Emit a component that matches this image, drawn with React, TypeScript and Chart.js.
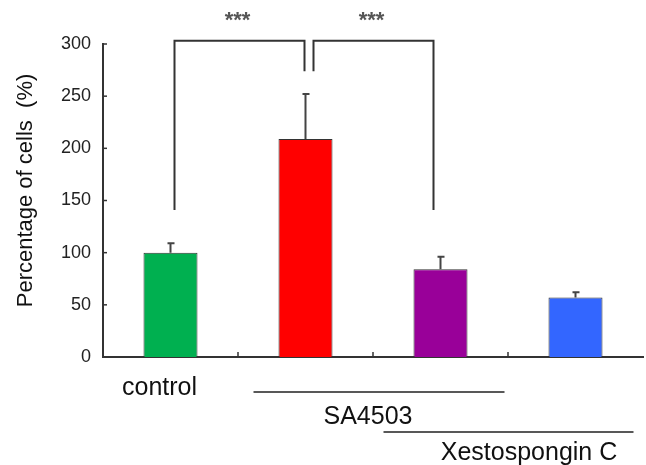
import React, { useEffect, useRef } from "react";
import { Chart, registerables } from "chart.js";
Chart.register(...registerables);

const categories = ["control", "SA4503", "SA4503 + Xestospongin C", "Xestospongin C"];
const values = [100, 209, 84, 57];
const errors = [9, 43, 12, 5];
const barColors = ["#00B050", "#FF0000", "#990099", "#3366FF"];
const yTicks = [0, 50, 100, 150, 200, 250, 300];
const yTitle = "Percentage of cells  (%)";
const stars = "***";
// brackets: [fromIndex, toIndex, fromLow, toLow, top]
const bracketA = [0, 1, 141, 274, 303];
const bracketB = [1, 2, 274, 141, 303];
const starLevel = 327;

const FONT = "'Liberation Sans', Arial, sans-serif";

const overlay = {
  id: "overlay",
  afterDatasetsDraw(chart: any) {
    const ctx = chart.ctx;
    const x = chart.scales.x;
    const y = chart.scales.y;
    const area = chart.chartArea;
    ctx.save();
    // y title
    ctx.save();
    ctx.translate(26, (area.top + area.bottom) / 2 - 10);
    ctx.rotate(-Math.PI / 2);
    ctx.fillStyle = "#111";
    ctx.font = `22px ${FONT}`;
    ctx.textAlign = "center";
    ctx.textBaseline = "middle";
    ctx.fillText(yTitle, 0, 0);
    ctx.restore();
    // error bars
    ctx.strokeStyle = "#444";
    ctx.lineWidth = 2;
    values.forEach((v, i) => {
      const cx = x.getPixelForValue(i);
      const y0 = y.getPixelForValue(v);
      const y1 = y.getPixelForValue(v + errors[i]);
      ctx.beginPath();
      ctx.moveTo(cx, y0);
      ctx.lineTo(cx, y1);
      ctx.moveTo(cx - 3, y1);
      ctx.lineTo(cx + 4, y1);
      ctx.stroke();
    });
    // tick marks
    ctx.strokeStyle = "#333";
    ctx.lineWidth = 1.5;
    yTicks.forEach((t) => {
      if (t === 0) return;
      const py = y.getPixelForValue(t);
      ctx.beginPath();
      ctx.moveTo(area.left, py);
      ctx.lineTo(area.left + 4, py);
      ctx.stroke();
    });
    for (let i = 0; i < categories.length - 1; i++) {
      const px = (x.getPixelForValue(i) + x.getPixelForValue(i + 1)) / 2;
      ctx.beginPath();
      ctx.moveTo(px, area.bottom);
      ctx.lineTo(px, area.bottom - 5);
      ctx.stroke();
    }
    // brackets
    ctx.strokeStyle = "#333";
    ctx.lineWidth = 2;
    const drawBracket = (b: number[], dxa: number, dxb: number) => {
      const xa = x.getPixelForValue(b[0]) + dxa;
      const xb = x.getPixelForValue(b[1]) + dxb;
      const top = y.getPixelForValue(b[4]);
      ctx.beginPath();
      ctx.moveTo(xa, y.getPixelForValue(b[2]));
      ctx.lineTo(xa, top);
      ctx.lineTo(xb, top);
      ctx.lineTo(xb, y.getPixelForValue(b[3]));
      ctx.stroke();
      ctx.fillStyle = "#555";
      ctx.font = `bold 22px ${FONT}`;
      ctx.textAlign = "center";
      ctx.textBaseline = "middle";
      ctx.fillText(stars, (xa + xb) / 2 - 2, y.getPixelForValue(starLevel) + 5);
    };
    drawBracket(bracketA, 4, -1);
    drawBracket(bracketB, 8, -7);
    // bottom group labels
    ctx.fillStyle = "#111";
    ctx.font = `25px ${FONT}`;
    ctx.textAlign = "center";
    ctx.textBaseline = "middle";
    const c0 = x.getPixelForValue(0);
    const c1 = x.getPixelForValue(1);
    const c2 = x.getPixelForValue(2);
    const c3 = x.getPixelForValue(3);
    ctx.fillText(categories[0], c0 - 11, area.bottom + 31);
    ctx.strokeStyle = "#222";
    ctx.lineWidth = 1.5;
    ctx.beginPath();
    ctx.moveTo(c1 - 52, area.bottom + 35);
    ctx.lineTo(c2 + 64, area.bottom + 35);
    ctx.moveTo(c2 - 57, area.bottom + 75);
    ctx.lineTo(c3 + 58, area.bottom + 75);
    ctx.stroke();
    ctx.fillText(categories[1], (c1 + c2) / 2 - 5, area.bottom + 60);
    ctx.fillText(categories[3], (c2 + c3) / 2 + 21, area.bottom + 96);
    ctx.restore();
  },
};

export default function App() {
  const ref = useRef<HTMLCanvasElement>(null);
  useEffect(() => {
    document.body.style.margin = "0";
    const chart = new Chart(ref.current!, {
      type: "bar",
      data: {
        labels: categories,
        datasets: [
          {
            data: values,
            backgroundColor: barColors,
            borderColor: "#333",
            borderWidth: 1,
            categoryPercentage: 1,
            barPercentage: 0.4,
          },
        ],
      },
      options: {
        animation: false,
        responsive: true,
        maintainAspectRatio: false,
        layout: { padding: { top: 44, right: 3, left: 0, bottom: 0 } },
        plugins: { legend: { display: false }, tooltip: { enabled: false } },
        scales: {
          x: {
            grid: { display: false, drawTicks: false },
            border: { display: true, color: "#333", width: 2 },
            ticks: { display: false },
            afterFit: (s: any) => {
              s.height = 108;
            },
          },
          y: {
            min: 0,
            max: 300,
            afterBuildTicks: (s: any) => {
              s.ticks = yTicks.map((v) => ({ value: v }));
            },
            grid: { display: false, drawTicks: false },
            border: { display: true, color: "#333", width: 2 },
            ticks: {
              padding: 12,
              color: "#222",
              font: { family: FONT, size: 18 },
            },
            title: { display: false },
            afterFit: (s: any) => {
              s.width = 103;
            },
          },
        },
      },
      plugins: [overlay],
    });
    return () => chart.destroy();
  }, []);
  return (
    <div style={{ position: "relative", width: 646, height: 465 }}>
      <canvas ref={ref} />
    </div>
  );
}
